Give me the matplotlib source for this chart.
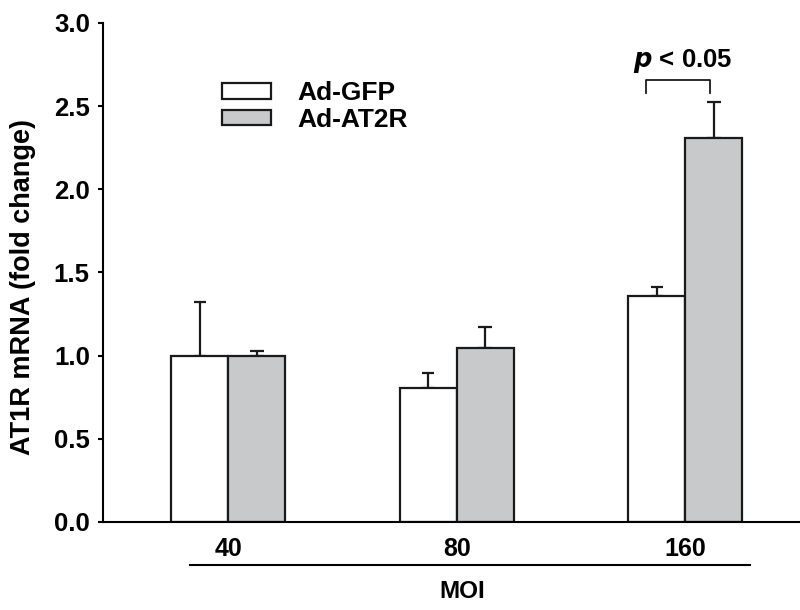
import numpy as np
import matplotlib
matplotlib.use('Agg')
import matplotlib.pyplot as plt
from matplotlib.lines import Line2D

plt.rcParams['font.family'] = ['Liberation Sans', 'DejaVu Sans']
plt.rcParams['font.weight'] = 'bold'

# datos
moi = ['40', '80', '160']
gfp_media = [1.00, 0.805, 1.36]
gfp_error = [0.32, 0.09, 0.055]
at2r_media = [1.00, 1.045, 2.31]
at2r_error = [0.03, 0.125, 0.215]

x = np.arange(len(moi))
ancho = 0.25

fig = plt.figure(figsize=(8, 6.1), dpi=100)
ax = fig.add_axes([0.129, 0.1443, 0.871, 0.818])

ax.bar(x - ancho / 2, gfp_media, ancho, color='white', edgecolor='#1a1a1a', linewidth=1.6, label='Ad-GFP', zorder=2)
ax.bar(x + ancho / 2, at2r_media, ancho, color='#c8c9cb', edgecolor='#1a1a1a', linewidth=1.6, label='Ad-AT2R', zorder=2)
ax.errorbar(x - ancho / 2, gfp_media, yerr=[np.zeros(3), gfp_error], fmt='none', ecolor='#1a1a1a', elinewidth=1.6, capsize=4, capthick=1.6, zorder=1)
ax.errorbar(x + ancho / 2, at2r_media, yerr=[np.zeros(3), at2r_error], fmt='none', ecolor='#1a1a1a', elinewidth=1.6, capsize=5, capthick=1.6, zorder=1)

ax.set_xlim(-0.547, 2.503)
ax.set_ylim(0, 3.0)
ticks_y = np.arange(0, 3.01, 0.5)
ax.set_yticks(ticks_y)
ax.set_yticklabels([f'{v:.1f}' for v in ticks_y], fontsize=18.5, fontweight='bold')
ax.set_xticks(x)
ax.set_xticklabels(moi, fontsize=18, fontweight='bold')
ax.tick_params(axis='x', length=0, pad=11)
ax.tick_params(axis='y', length=3.6, width=1.5, pad=6, direction='out')
ax.spines['top'].set_visible(False)
ax.spines['right'].set_visible(False)
ax.spines['left'].set_linewidth(1.5)
ax.spines['bottom'].set_linewidth(1.5)
ax.set_ylabel('AT1R mRNA (fold change)', fontsize=19.5, fontweight='bold')
ax.yaxis.set_label_coords(-0.097, 0.47)

# significancia
ax.plot([1.83, 1.83, 2.11, 2.11], [2.58, 2.66, 2.66, 2.58], color='#1a1a1a', linewidth=1.3)
ax.text(1.99, 2.77, r'$\mathbf{\mathit{p}}$ < 0.05', ha='center', va='center', fontsize=18.5, fontweight='bold')

# leyenda
ax.legend(loc='upper left', bbox_to_anchor=(0.170, 0.883), frameon=False,
          handlelength=1.86, handleheight=0.5, handletextpad=1.0, labelspacing=0.1,
          borderaxespad=0, borderpad=0, prop={'weight': 'bold', 'size': 19})

# linea del eje MOI
fig.add_artist(Line2D([190 / 800, 750 / 800], [(610 - 565) / 610] * 2, color='black', linewidth=1.5))
fig.text(462 / 800, (610 - 591) / 610, 'MOI', ha='center', va='center', fontsize=17.5, fontweight='bold')

fig.savefig('out.png', dpi=100)
